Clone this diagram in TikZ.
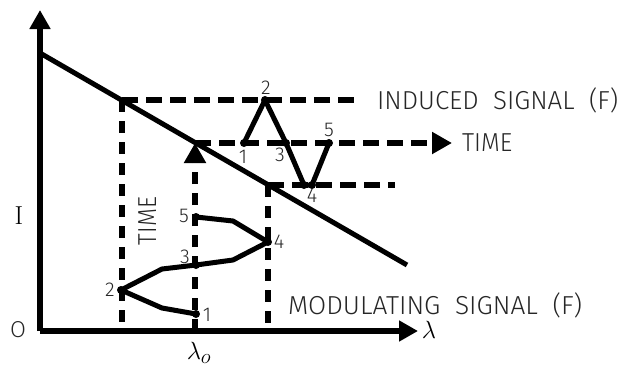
\documentclass[tikz,border=0pt]{standalone}
\usepackage{fontspec}
\setsansfont{Fira Sans}[UprightFont=* Light]
\usetikzlibrary{arrows.meta}
\newcommand{\lblfont}{\sffamily\fontsize{26}{26}\selectfont}
\newcommand{\fitw}[2]{\resizebox{#1}{\height}{\lblfont #2}}
\begin{document}
\begin{tikzpicture}[x=1pt,y=-1pt,
  axisline/.style={line width=6pt,-{Triangle[length=19pt,width=20pt]}},
  diag/.style={line width=5pt},
  dashh/.style={line width=5.5pt,dash pattern=on 16pt off 8pt},
  dashv/.style={line width=5.5pt,dash pattern=on 12pt off 9pt},
  tipped/.style={-{Triangle[length=20pt,width=21pt]}},
  wave/.style={line width=5pt,line join=round},
  dotpt/.style={circle,fill,inner sep=0pt,minimum size=8pt},
  num/.style={inner sep=0pt,text=black!85,font=\sffamily\fontsize{20}{20}\selectfont},
  caption/.style={inner sep=0pt,anchor=west,text=black!85}]
\useasboundingbox (0,0) rectangle (624,368);

% axes
\coordinate (O) at (40,331);
\coordinate (ytop) at (40,10);
\coordinate (xend) at (418,331);
\draw[axisline] (O) -- (ytop);
\draw[axisline] (O) -- (xend);

% diagonal line
\coordinate (d0) at (40,53);
\coordinate (d1) at (407,265);
\draw[diag] (d0) -- (d1);

% points on the diagonal
\coordinate (pa) at (122,100);
\coordinate (pb) at (195,143);
\coordinate (pc) at (268,185);
\coordinate (pa0) at (122,331);
\coordinate (pb0) at (195,331);
\coordinate (pc0) at (268,331);
\coordinate (ea) at (360,100);
\coordinate (eb) at (452,143);
\coordinate (ec) at (395,185);

% dashed guides
\draw[dashv] (pa) -- (pa0);
\draw[dashv] (pc) -- (pc0);
\draw[dashv,tipped] (pb0) -- (pb);
\draw[dashh] (pa) -- (ea);
\draw[dashh,tipped] (pb) -- (eb);
\draw[dashh] (pc) -- (ec);

% induced signal
\node[dotpt] (i1) at (244,143) {};
\node[dotpt] (i2) at (265,100) {};
\node[dotpt] (i3) at (286,143) {};
\node[dotpt] (i4a) at (304,185) {};
\node[dotpt] (i4b) at (312,185) {};
\node[dotpt] (i5) at (329,143) {};
\draw[wave] (i1.center) -- (i2.center) -- (i3.center) -- (i4a.center) -- (i4b.center) -- (i5.center);
\node[num] (li1) at (243,157) {1};
\node[num] (li2) at (266,88) {2};
\node[num] (li3) at (280,155) {3};
\node[num] (li4) at (312,196) {4};
\node[num] (li5) at (329,130) {5};

% modulating signal
\node[dotpt] (m1) at (196,314) {};
\node[dotpt] (m2) at (121,290) {};
\node[dotpt] (m3) at (196,265) {};
\node[dotpt] (m4) at (268,242) {};
\node[dotpt] (m5) at (196,217) {};
\draw[wave] (m1.center) -- (162,308) -- (m2.center) -- (162,269) -- (m3.center)
  -- (233,260) -- (m4.center) -- (233,221) -- (m5.center);
\node[num] (lm1) at (207,315) {1};
\node[num] (lm2) at (110,290) {2};
\node[num] (lm3) at (185,257) {3};
\node[num] (lm4) at (279,242) {4};
\node[num] (lm5) at (184,216) {5};

% texts
\node[caption] (induced) at (377,100) {\fitw{241pt}{INDUCED\ \ SIGNAL\ \ (F)}};
\node[caption] (time1) at (462,143) {\fitw{50pt}{TIME}};
\node[caption] (modul) at (288,305) {\fitw{294pt}{MODULATING\ \ SIGNAL\ \ (F)}};
\node[inner sep=0pt,rotate=90,text=black!85] (time2) at (148,221) {\fitw{48pt}{TIME}};
\node[inner sep=0pt,text=black!85] (olab) at (18,330) {\sffamily\fontsize{23}{23}\selectfont O};
\node[inner sep=0pt] (ilab) at (19,216) {\rmfamily\fontsize{26}{26}\selectfont I};
\node[inner sep=0pt] (lam) at (429,330) {\fontsize{25}{25}\selectfont$\lambda$};
\node[inner sep=0pt] (lamo) at (199,353) {\fontsize{30}{30}\selectfont$\lambda_o$};
\end{tikzpicture}
\end{document}
